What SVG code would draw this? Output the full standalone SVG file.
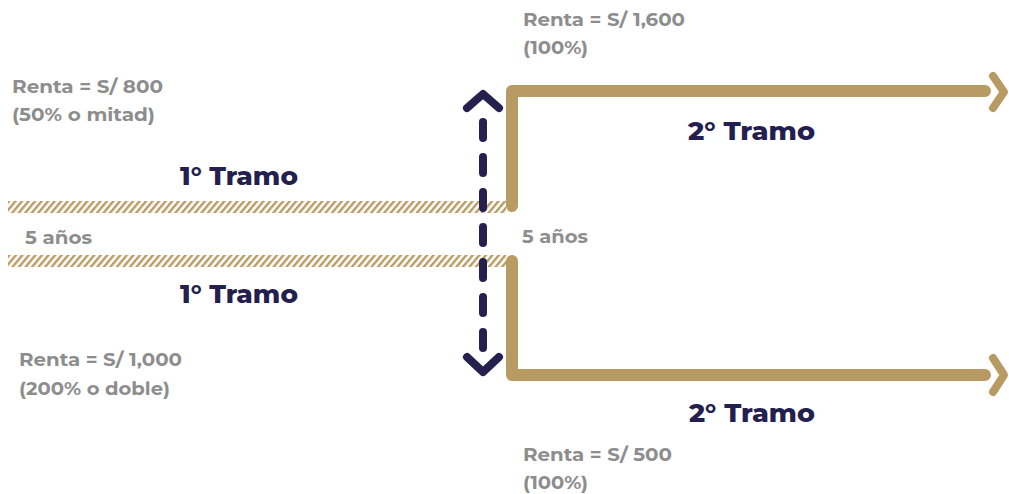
<svg xmlns="http://www.w3.org/2000/svg" width="1009" height="494" viewBox="0 0 1009 494">
<defs>
<style>
.lbl{font-family:"Montserrat","Inter","Open Sans",sans-serif;font-weight:700;fill:#8d8d8d;font-size:18.5px}
.tr{font-family:"Montserrat","Inter","Open Sans",sans-serif;font-weight:800;fill:#241f4f;font-size:25px}
.gold{fill:none;stroke:#b89b62;stroke-width:12;stroke-linecap:round;stroke-linejoin:round}
.chev{fill:none;stroke:#b89b62;stroke-width:8;stroke-linecap:round;stroke-linejoin:round}
.nav{fill:none;stroke:#26204f;stroke-width:8;stroke-linecap:round;stroke-linejoin:round}
</style>
<pattern id="hatch" patternUnits="userSpaceOnUse" width="5" height="5" patternTransform="rotate(40)">
<rect x="0" y="0" width="2.4" height="5" fill="#b89b62"/>
</pattern>
</defs>
<g id="bands">
<rect x="8" y="201" width="498" height="12" fill="url(#hatch)"/>
<rect x="8" y="255" width="498" height="12" fill="url(#hatch)"/>
</g>
<g id="connectors">
<path class="gold" d="M512 206 V91 H985"/>
<path class="chev" d="M993 76 L1004 92 L993 108"/>
<path class="gold" d="M512 261 V375 H985"/>
<path class="chev" d="M993 358 L1004 375 L993 392"/>
<line class="nav" x1="483" y1="122" x2="483" y2="348" stroke-dasharray="16 19"/>
<path class="nav" d="M467 108 L483 94 L499 108"/>
<path class="nav" d="M467 357 L483 372 L499 357"/>
</g>
<g id="tramo1-top">
<text class="lbl" x="12" y="93" textLength="151" lengthAdjust="spacingAndGlyphs">Renta = S/ 800</text>
<text class="lbl" x="12" y="121" textLength="143" lengthAdjust="spacingAndGlyphs">(50% o mitad)</text>
<text class="tr" x="180" y="185" textLength="118" lengthAdjust="spacingAndGlyphs">1° Tramo</text>
</g>
<g id="tramo1-bottom">
<text class="tr" x="180" y="303" textLength="118" lengthAdjust="spacingAndGlyphs">1° Tramo</text>
<text class="lbl" x="19" y="366" textLength="163" lengthAdjust="spacingAndGlyphs">Renta = S/ 1,000</text>
<text class="lbl" x="19" y="395" textLength="151" lengthAdjust="spacingAndGlyphs">(200% o doble)</text>
</g>
<g id="years">
<text class="lbl" x="25" y="244" textLength="67" lengthAdjust="spacingAndGlyphs">5 años</text>
<text class="lbl" x="522" y="243" textLength="66" lengthAdjust="spacingAndGlyphs">5 años</text>
</g>
<g id="tramo2-top">
<text class="lbl" x="523" y="26" textLength="162" lengthAdjust="spacingAndGlyphs">Renta = S/ 1,600</text>
<text class="lbl" x="523" y="54" textLength="65" lengthAdjust="spacingAndGlyphs">(100%)</text>
<text class="tr" x="688" y="140" textLength="127" lengthAdjust="spacingAndGlyphs">2° Tramo</text>
</g>
<g id="tramo2-bottom">
<text class="tr" x="689" y="422" textLength="126" lengthAdjust="spacingAndGlyphs">2° Tramo</text>
<text class="lbl" x="523" y="461" textLength="149" lengthAdjust="spacingAndGlyphs">Renta = S/ 500</text>
<text class="lbl" x="523" y="489" textLength="65" lengthAdjust="spacingAndGlyphs">(100%)</text>
</g>
</svg>
